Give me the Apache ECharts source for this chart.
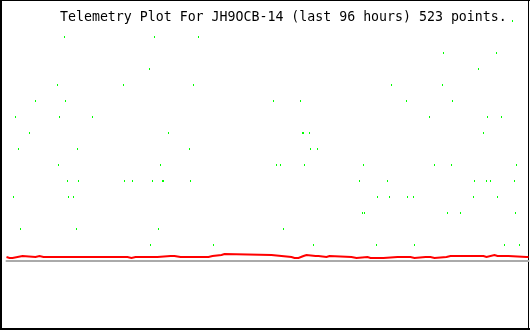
<!DOCTYPE html>
<html>
<head>
<meta charset="utf-8">
<script src="https://cdn.jsdelivr.net/npm/echarts@6/dist/echarts.min.js"></script>
<style>
html,body{margin:0;padding:0;background:#fff;}
#chart{width:530px;height:330px;}
</style>
</head>
<body>
<div id="chart"></div>
<script>
// Title
const titleText = 'Telemetry Plot For JH9OCB-14 (last 96 hours) 523 points.';

// Sample index range (523 points -> 0..522)
const sampleCount = 523;

// Green channel: sample index and level
const greenIndex = [7, 9, 12, 14, 23, 29, 51, 52, 53, 58, 59, 61, 62, 67, 70, 71, 72, 86, 117, 118, 126, 143, 144, 146, 148, 152, 154, 156, 157, 162, 183, 184, 187, 192, 207, 267, 270, 274, 277, 294, 296, 297, 298, 303, 304, 307, 311, 353, 356, 357, 358, 370, 371, 381, 383, 385, 400, 401, 407, 408, 423, 428, 436, 437, 441, 445, 446, 454, 467, 468, 472, 477, 480, 481, 484, 490, 491, 495, 498, 506, 508, 509, 510, 513];
const greenLevel = [4, 9, 7, 2, 8, 10, 11, 6, 9, 14, 10, 5, 4, 4, 2, 7, 5, 9, 11, 5, 5, 12, 1, 5, 14, 2, 6, 5, 5, 8, 7, 5, 11, 14, 1, 10, 6, 6, 2, 10, 8, 8, 6, 8, 7, 1, 7, 5, 3, 6, 3, 1, 4, 5, 4, 11, 10, 4, 4, 1, 9, 6, 11, 13, 3, 6, 10, 3, 4, 5, 12, 8, 5, 9, 5, 13, 4, 9, 1, 15, 5, 3, 6, 1];

// Red channel: change points (sample index, value held until next change)
const redIndex = [0, 2, 3, 5, 6, 7, 16, 17, 18, 29, 33, 37, 38, 65, 67, 76, 77, 87, 88, 103, 105, 112, 113, 121, 125, 126, 127, 129, 130, 132, 134, 144, 145, 151, 164, 165, 168, 174, 175, 198, 200, 202, 206, 215, 216, 217, 218, 265, 267, 285, 288, 289, 292, 297, 298, 299, 300, 309, 310, 312, 320, 321, 322, 323, 345, 346, 347, 350, 361, 364, 365, 367, 368, 370, 372, 374, 375, 377, 391, 392, 396, 398, 399, 401, 404, 408, 419, 420, 424, 428, 440, 444, 445, 455, 456, 458, 459, 461, 462, 477, 480, 488, 491, 492, 494, 495, 497, 498, 502, 520, 521, 522];
const redValue = [0.25, 0.1875, 0.25, 0.1875, 0.25, 0.3125, 0.25, 0.3125, 0.25, 0.3125, 0.25, 0.3125, 0.25, 0.1875, 0.25, 0.1875, 0.25, 0.1875, 0.25, 0.1875, 0.25, 0.1875, 0.25, 0.1875, 0.25, 0.1875, 0.25, 0.1875, 0.25, 0.1875, 0.25, 0.1875, 0.25, 0.3125, 0.25, 0.3125, 0.25, 0.3125, 0.25, 0.3125, 0.25, 0.3125, 0.375, 0.4375, 0.375, 0.4375, 0.375, 0.3125, 0.25, 0.1875, 0.25, 0.1875, 0.3125, 0.1875, 0.3125, 0.375, 0.3125, 0.1875, 0.3125, 0.25, 0.3125, 0.25, 0.3125, 0.25, 0.1875, 0.25, 0.1875, 0.25, 0.1875, 0.25, 0.1875, 0.25, 0.1875, 0.25, 0.1875, 0.25, 0.1875, 0.25, 0.1875, 0.25, 0.1875, 0.25, 0.1875, 0.25, 0.1875, 0.25, 0.1875, 0.25, 0.1875, 0.25, 0.3125, 0.25, 0.3125, 0.25, 0.3125, 0.25, 0.3125, 0.25, 0.3125, 0.25, 0.375, 0.3125, 0.375, 0.3125, 0.375, 0.3125, 0.375, 0.3125, 0.25, 0.1875, 0.25, 0.25];

// Axis ranges
const levelMin = 0;
const levelMax = 15;

const greenData = greenIndex.map((x, i) => [x, greenLevel[i]]);
// Stair-step vertices built from the change points
const redData = [];
redIndex.forEach((x, i) => {
  if (i > 0) redData.push([x, redValue[i - 1]]);
  redData.push([x, redValue[i]]);
});

const chart = echarts.init(document.getElementById('chart'), null, {renderer: 'canvas'});
chart.setOption({
  animation: false,
  backgroundColor: '#ffffff',
  title: {
    text: titleText,
    left: 60,
    top: 11,
    padding: 0,
    textStyle: {
      fontFamily: '"DejaVu Sans Mono", monospace',
      fontSize: 13.25,
      fontWeight: 'normal',
      color: '#000000'
    }
  },
  grid: {left: 6.5, right: 1.5, top: 21, bottom: 69, containLabel: false},
  xAxis: {
    type: 'value',
    min: 0,
    max: sampleCount - 1,
    axisLine: {show: true, onZero: false, lineStyle: {color: '#aaaaaa', width: 2}},
    axisTick: {show: false},
    axisLabel: {show: false},
    splitLine: {show: false}
  },
  yAxis: {
    type: 'value',
    min: levelMin,
    max: levelMax,
    show: false
  },
  series: [
    {
      type: 'line',
      data: redData,
      showSymbol: false,
      lineStyle: {color: '#ff0000', width: 2, join: 'miter', opacity: 1},
      z: 2
    },
    {
      type: 'scatter',
      data: greenData,
      symbol: 'rect',
      symbolSize: [1, 2],
      itemStyle: {color: '#00ff00', opacity: 1},
      z: 3
    }
  ],
  graphic: [
    {type: 'rect', shape: {x: 0, y: 0, width: 2, height: 330}, style: {fill: '#000'}},
    {type: 'rect', shape: {x: 0, y: 0, width: 530, height: 1}, style: {fill: '#000'}},
    {type: 'rect', shape: {x: 528, y: 0, width: 1, height: 330}, style: {fill: '#000'}},
    {type: 'rect', shape: {x: 0, y: 328, width: 530, height: 2}, style: {fill: '#000'}}
  ]
});
</script>
</body>
</html>
